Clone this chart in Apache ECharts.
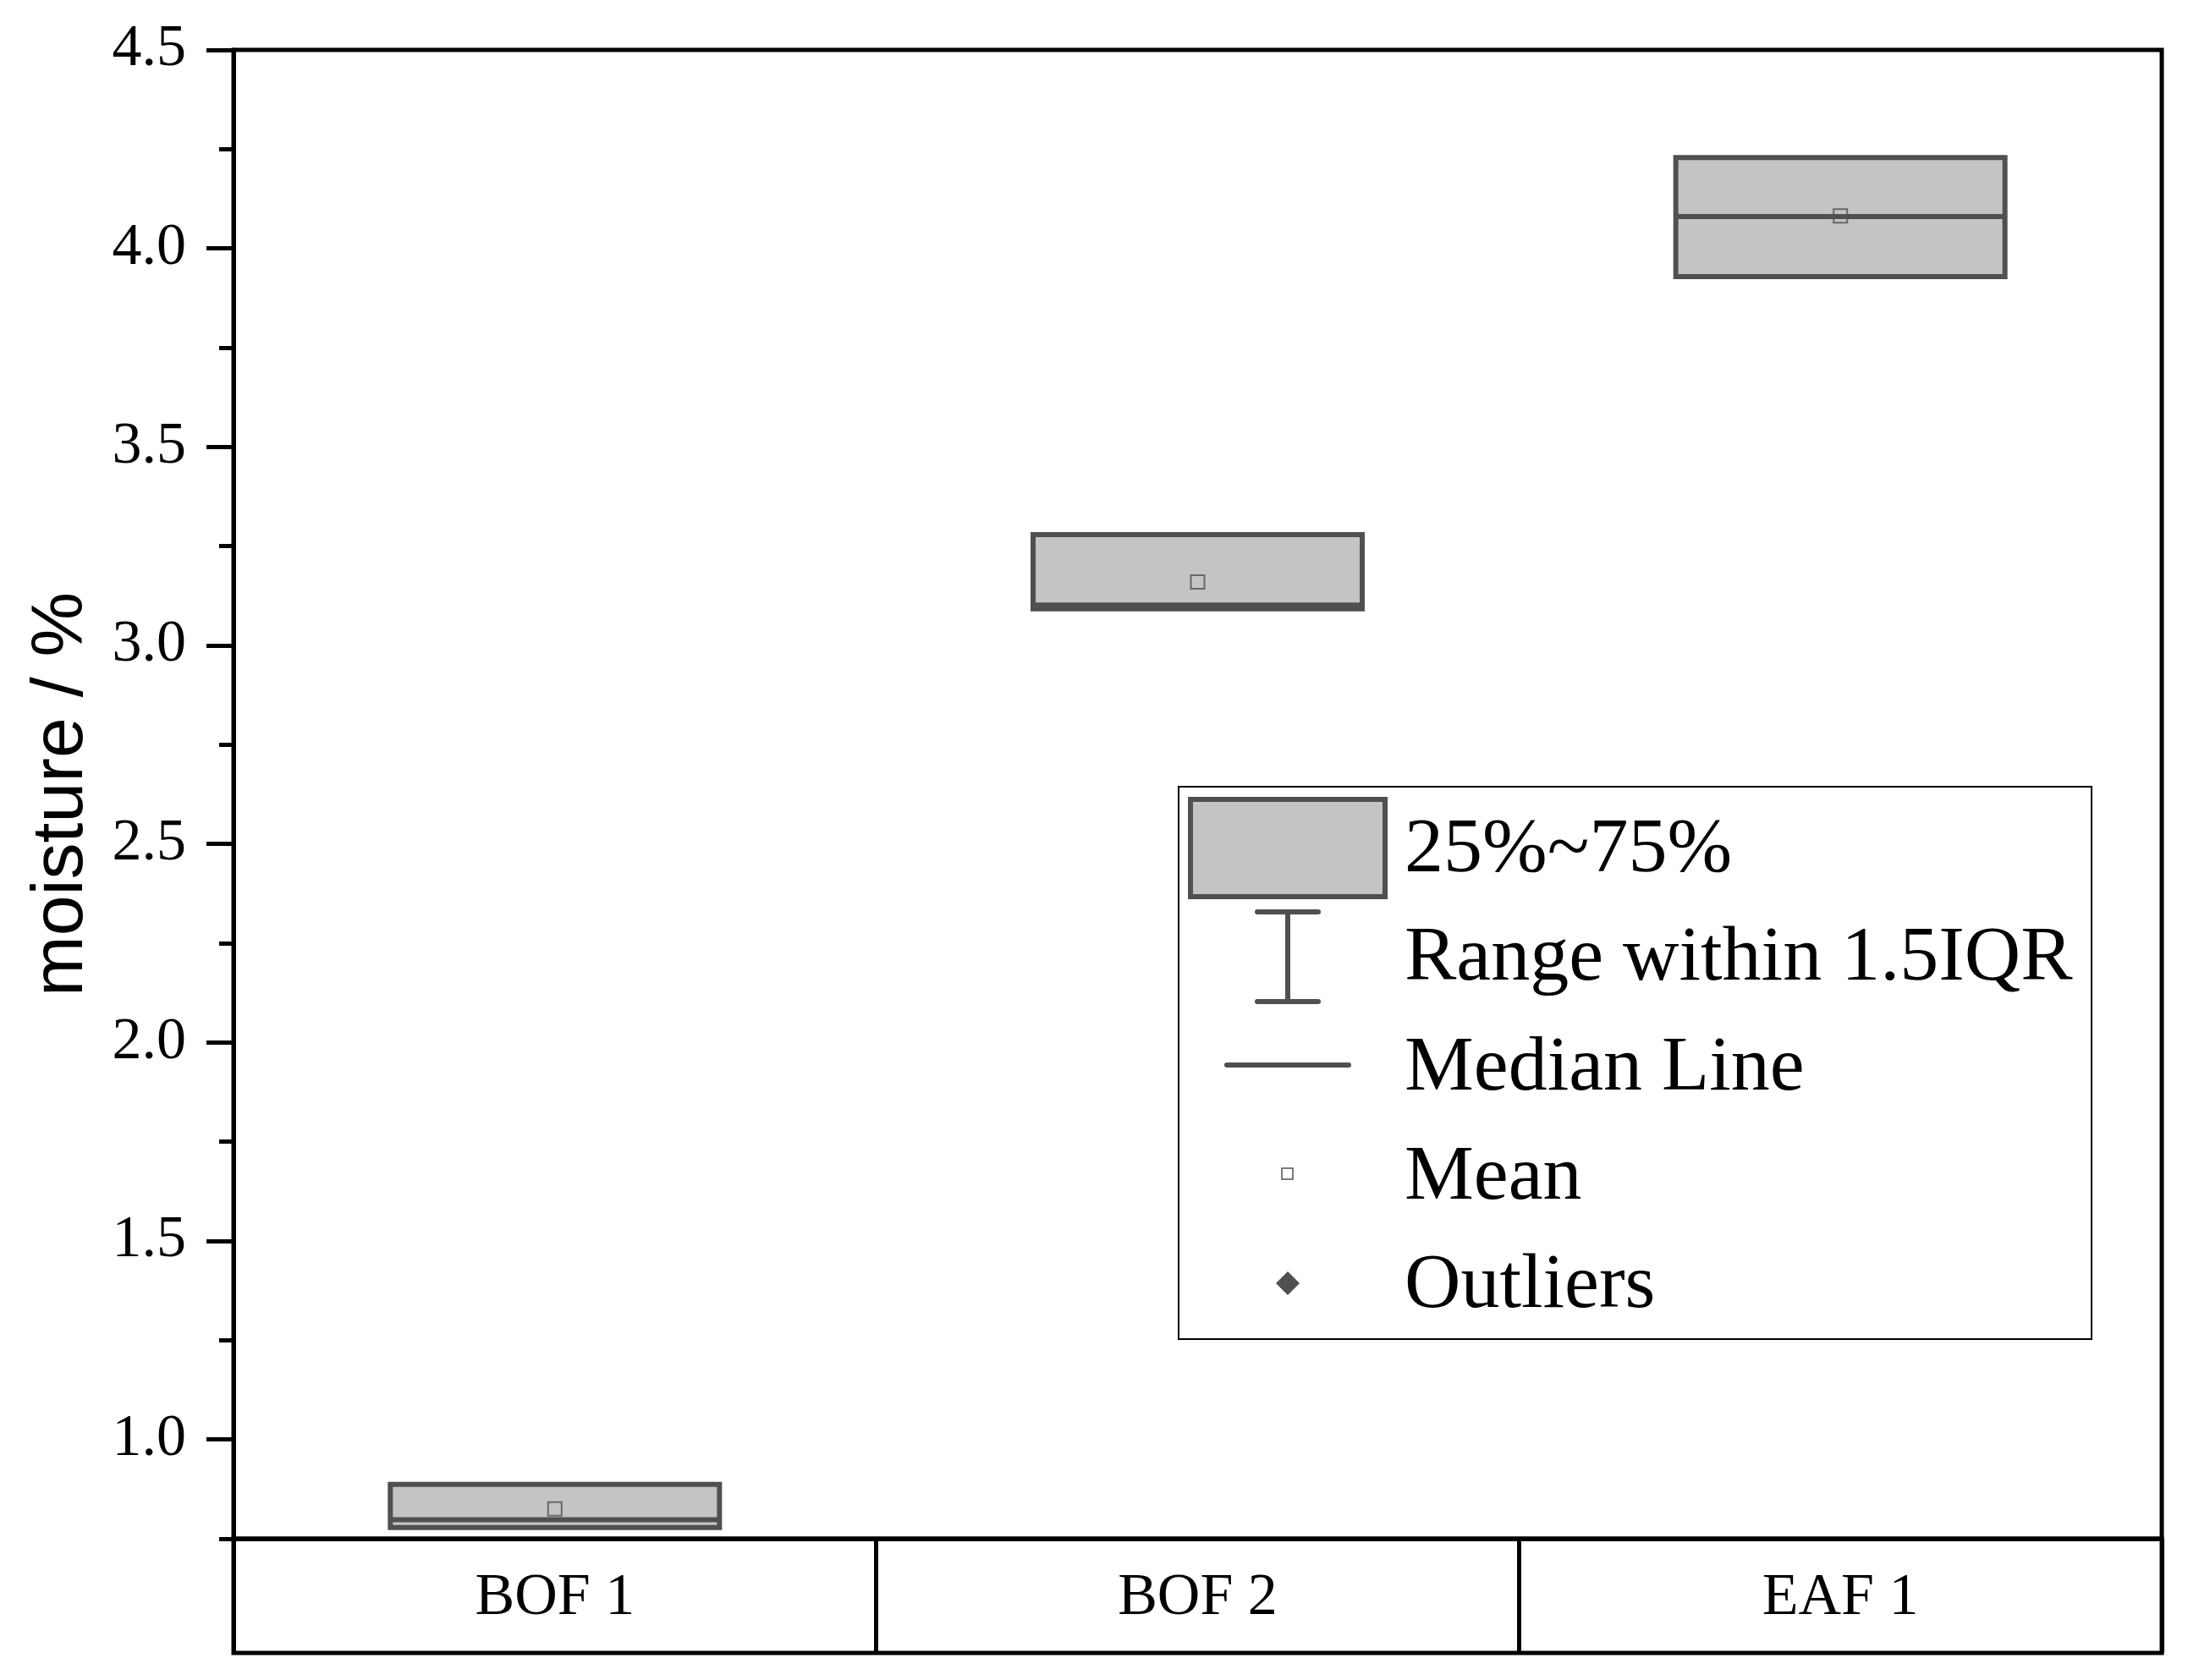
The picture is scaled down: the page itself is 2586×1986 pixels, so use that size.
<!DOCTYPE html>
<html>
<head>
<meta charset="utf-8">
<title>moisture box chart</title>
<script src="https://cdn.jsdelivr.net/npm/echarts@6/dist/echarts.min.js"></script>
<style>
  html, body { margin: 0; padding: 0; background: #fff; }
  #chart { width: 2586px; height: 1986px; }
</style>
</head>
<body>
<div id="chart"></div>
<script>
// data
const categories = ['BOF 1', 'BOF 2', 'EAF 1'];
const q1 = [0.778, 3.092, 3.929];
const median = [0.798, 3.102, 4.080];
const q3 = [0.887, 3.279, 4.229];
const mean = [0.825, 3.160, 4.082];
const yTicks = [1.0, 1.5, 2.0, 2.5, 3.0, 3.5, 4.0, 4.5];
const legendLabels = ['25%~75%', 'Range within 1.5IQR', 'Median Line', 'Mean', 'Outliers'];

const serif = '"Liberation Serif", "Times New Roman", serif';
const boxFill = '#c4c4c4';
const boxLine = '#505050';

// no whiskers visible: range within 1.5IQR equals the box
const boxData = categories.map((c, i) => [q1[i], q1[i], median[i], q3[i], q3[i]]);

// legend drawn by hand (custom icons of different sizes)
const legendTextY = [1006, 1134, 1264, 1393, 1521];
const legendItems = [
  { type: 'rect', shape: { x: 1393, y: 930, width: 1079, height: 653 },
    style: { fill: '#fff', stroke: '#000', lineWidth: 2 } },
  { type: 'rect', shape: { x: 1407, y: 945, width: 230, height: 115 },
    style: { fill: boxFill, stroke: boxLine, lineWidth: 6 } },
  { type: 'line', shape: { x1: 1522, y1: 1078, x2: 1522, y2: 1184 }, style: { stroke: boxLine, lineWidth: 6 } },
  { type: 'line', shape: { x1: 1486, y1: 1078, x2: 1558, y2: 1078 }, style: { stroke: boxLine, lineWidth: 6, lineCap: 'round' } },
  { type: 'line', shape: { x1: 1486, y1: 1184, x2: 1558, y2: 1184 }, style: { stroke: boxLine, lineWidth: 6, lineCap: 'round' } },
  { type: 'line', shape: { x1: 1450, y1: 1259, x2: 1594, y2: 1259 }, style: { stroke: boxLine, lineWidth: 6, lineCap: 'round' } },
  { type: 'rect', shape: { x: 1515, y: 1381, width: 13, height: 13 }, style: { fill: '#fff', stroke: boxLine, lineWidth: 1.5 } },
  { type: 'polygon', shape: { points: [[1522, 1503], [1536, 1517], [1522, 1531], [1508, 1517]] }, style: { fill: boxLine } }
];
legendLabels.forEach((t, i) => {
  legendItems.push({
    type: 'text', x: 1660, y: legendTextY[i],
    style: { text: t, font: '92px ' + serif, fill: '#000', verticalAlign: 'middle', align: 'left' }
  });
});
legendItems.forEach((el, i) => { el.z = 10; el.z2 = i; });

let option = {
  backgroundColor: '#fff',
  animation: false,
  grid: [
    { left: 276, right: 31, top: 59, bottom: 167, show: true, borderColor: '#000', borderWidth: 5, backgroundColor: 'transparent' },
    { left: 276, right: 31, top: 1819, bottom: 32, show: true, borderColor: '#000', borderWidth: 5, backgroundColor: 'transparent' }
  ],
  xAxis: [
    {
      gridIndex: 0,
      type: 'category',
      data: categories,
      axisLine: { show: true, lineStyle: { color: '#000', width: 5 } },
      axisTick: { show: false },
      splitLine: { show: false },
      axisLabel: {
        color: '#000', fontFamily: serif, fontSize: 70, lineHeight: 70,
        margin: 71, verticalAlign: 'middle'
      }
    },
    {
      gridIndex: 1,
      type: 'category',
      data: categories,
      axisLine: { show: false },
      axisTick: { show: false },
      axisLabel: { show: false },
      splitLine: { show: true, interval: 0, lineStyle: { color: '#000', width: 5 } }
    }
  ],
  yAxis: [
    {
      gridIndex: 0,
      type: 'value',
      min: 0.75,
      max: 4.5,
      name: 'moisture / %',
      nameLocation: 'middle',
      nameGap: 160,
      nameTextStyle: { fontFamily: '"Liberation Sans", Arial, sans-serif', fontSize: 86, color: '#000' },
      axisLine: { show: true, lineStyle: { color: '#000', width: 5 } },
      axisTick: { show: true, customValues: yTicks, length: 32, lineStyle: { color: '#000', width: 5 } },
      axisLabel: {
        customValues: yTicks,
        formatter: v => v.toFixed(1),
        color: '#000', fontFamily: serif, fontSize: 70, margin: 56
      },
      splitLine: { show: false }
    },
    {
      // minor ticks every 0.25
      gridIndex: 0,
      type: 'value',
      min: 0.75,
      max: 4.5,
      interval: 0.25,
      position: 'left',
      axisLine: { show: false },
      axisTick: { show: true, length: 17, lineStyle: { color: '#000', width: 5 } },
      axisLabel: { show: false },
      splitLine: { show: false }
    },
    {
      gridIndex: 1,
      type: 'value',
      show: false
    }
  ],
  graphic: legendItems,
  series: [
    {
      type: 'boxplot',
      xAxisIndex: 0,
      yAxisIndex: 0,
      data: boxData,
      boxWidth: [389, 389],
      itemStyle: { color: boxFill, borderColor: boxLine, borderWidth: 6 },
      emphasis: { disabled: true }
    },
    {
      type: 'scatter',
      xAxisIndex: 0,
      yAxisIndex: 0,
      data: mean,
      symbol: 'rect',
      symbolSize: 16,
      itemStyle: { color: 'rgba(0,0,0,0)', borderColor: boxLine, borderWidth: 2 },
      z: 5
    }
  ]
};

let myChart = echarts.init(document.getElementById('chart'));
myChart.setOption(option);
</script>
</body>
</html>
